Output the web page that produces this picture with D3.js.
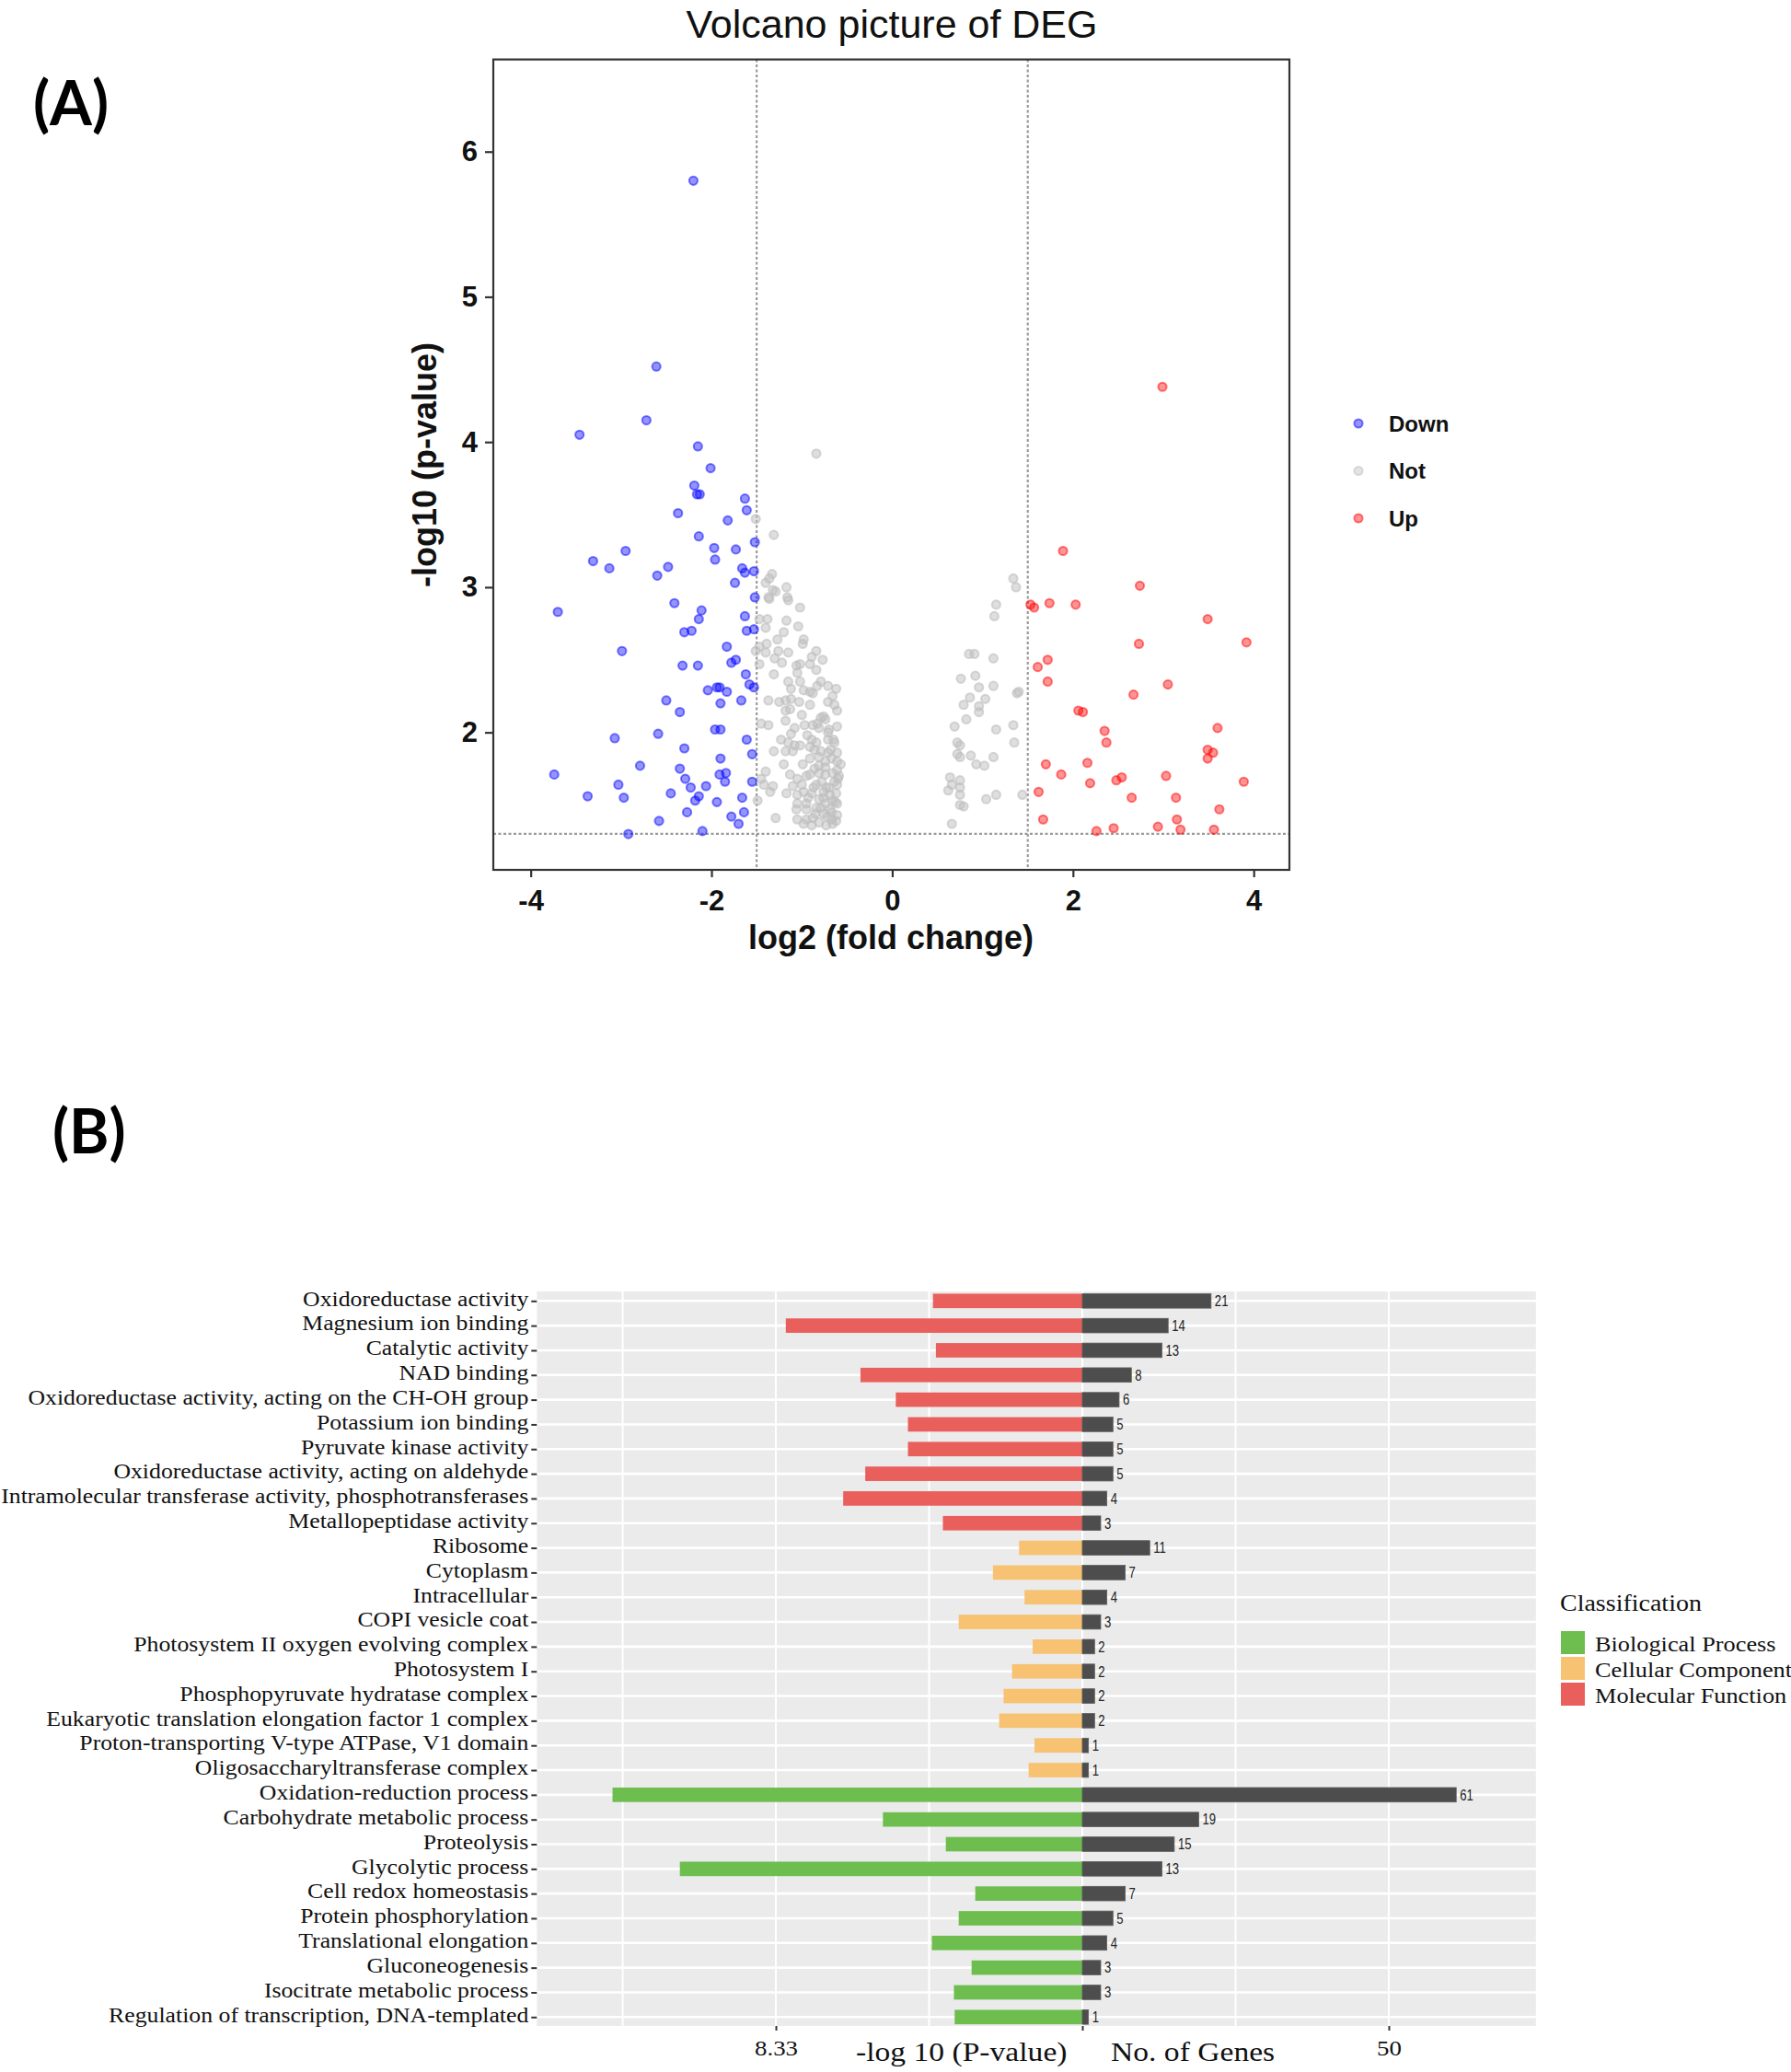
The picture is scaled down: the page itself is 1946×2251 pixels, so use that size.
<!DOCTYPE html>
<html><head><meta charset="utf-8">
<script src="https://cdn.jsdelivr.net/npm/d3@7"></script>
<style>body{margin:0;background:#fff}svg{display:block}</style>
</head><body>
<svg id="fig" width="1946" height="2251"></svg>
<script>
// ---------------- Panel A data: volcano (log2 fold change, -log10 p) ----------------
const volcanoDown = [
[-2.20,5.80],[-2.61,4.52],[-2.72,4.15],[-3.46,4.05],[-2.15,3.97],[-2.01,3.82],[-2.19,3.70],[-2.16,3.64],[-2.13,3.64],
[-1.63,3.61],[-1.61,3.53],[-2.37,3.51],[-1.82,3.46],[-2.14,3.35],[-1.52,3.31],[-2.95,3.25],[-1.97,3.27],[-1.73,3.26],
[-1.96,3.19],[-3.31,3.18],[-3.13,3.13],[-2.48,3.14],[-2.60,3.08],[-1.66,3.13],[-1.63,3.10],[-1.53,3.11],[-1.74,3.03],
[-1.52,2.93],[-2.41,2.89],[-3.70,2.83],[-2.11,2.84],[-2.14,2.78],[-1.63,2.80],[-2.30,2.69],[-2.22,2.70],[-1.61,2.70],
[-1.53,2.71],[-2.99,2.56],[-1.83,2.59],[-2.32,2.46],[-2.15,2.46],[-1.78,2.48],[-1.73,2.50],[-1.62,2.40],[-1.58,2.33],
[-1.53,2.31],[-2.04,2.29],[-1.94,2.31],[-1.91,2.31],[-1.83,2.28],[-1.67,2.22],[-1.90,2.20],[-2.50,2.22],[-2.35,2.14],
[-1.96,2.02],[-1.90,2.02],[-3.07,1.96],[-2.59,1.99],[-1.61,1.95],[-2.30,1.89],[-1.90,1.82],[-1.55,1.85],[-2.79,1.77],
[-2.35,1.75],[-3.74,1.71],[-1.91,1.71],[-1.84,1.72],[-1.85,1.66],[-2.29,1.68],[-1.55,1.66],[-3.03,1.64],[-2.23,1.62],
[-2.06,1.63],[-2.45,1.58],[-3.37,1.56],[-2.97,1.55],[-2.14,1.56],[-2.18,1.53],[-1.94,1.52],[-1.66,1.55],[-2.27,1.45],
[-1.64,1.45],[-2.58,1.39],[-1.78,1.42],[-1.70,1.37],[-2.92,1.30],[-2.10,1.32]
];
const volcanoNot = [
[-0.84,3.92],[-1.51,3.47],[-1.31,3.36],[-1.33,3.09],[-1.40,3.03],[-1.36,3.06],[-1.32,2.98],[-1.36,2.92],[-1.17,3.00],
[-1.16,2.93],[-1.15,2.91],[-1.02,2.86],[-1.47,2.78],[-1.38,2.78],[-1.40,2.72],[-1.17,2.77],[-1.04,2.73],[-1.20,2.69],
[-0.98,2.64],[-0.99,2.61],[-1.27,2.64],[-1.39,2.61],[-1.47,2.59],[-1.51,2.56],[-1.26,2.56],[-1.15,2.55],[-1.40,2.55],
[-0.84,2.56],[-1.30,2.51],[-1.22,2.48],[-0.89,2.52],[-0.91,2.47],[-0.77,2.50],[-1.06,2.46],[-1.02,2.47],[-1.47,2.47],
[-0.84,2.43],[-1.05,2.41],[-1.31,2.40],[-1.15,2.35],[-1.12,2.30],[-1.02,2.35],[-0.79,2.35],[-0.83,2.32],[-0.71,2.32],
[-0.98,2.29],[-0.91,2.28],[-0.88,2.27],[-1.37,2.22],[-1.25,2.21],[-1.18,2.22],[-1.12,2.23],[-1.03,2.21],[-0.91,2.19],
[-0.71,2.21],[-0.64,2.19],[-1.18,2.15],[-1.13,2.16],[-1.00,2.12],[-0.61,2.15],[-0.79,2.10],[-0.76,2.11],[-0.74,2.09],
[-0.88,2.05],[-0.83,2.06],[-0.81,2.03],[-1.18,2.08],[-1.45,2.06],[-1.37,2.05],[-1.08,2.03],[-1.12,1.99],[-0.61,2.04],
[-0.71,2.00],[-1.23,1.95],[-1.15,1.93],[-1.08,1.91],[-0.89,1.95],[-0.84,1.93],[-0.91,1.90],[-0.71,1.95],[-0.64,1.93],
[-1.02,1.91],[-1.10,1.87],[-1.18,1.87],[-1.31,1.87],[-0.86,1.88],[-0.79,1.87],[-0.71,1.86],[-0.61,1.86],[-0.91,1.82],
[-0.81,1.83],[-0.74,1.80],[-0.67,1.82],[-0.61,1.80],[-0.57,1.78],[-1.20,1.78],[-0.81,1.77],[-0.74,1.76],[-0.86,1.75],
[-0.61,1.74],[-1.13,1.71],[-0.91,1.71],[-0.81,1.72],[-0.74,1.71],[-0.66,1.72],[-0.59,1.70],[-1.40,1.73],[-1.45,1.68],
[-1.42,1.64],[-1.05,1.68],[-1.00,1.64],[-0.61,1.64],[-0.84,1.64],[-0.78,1.66],[-0.73,1.62],[-1.32,1.63],[-1.35,1.59],
[-1.10,1.63],[-1.17,1.58],[-1.05,1.57],[-0.98,1.59],[-0.89,1.58],[-0.76,1.59],[-0.69,1.57],[-0.62,1.58],[-1.49,1.53],
[-0.81,1.54],[-0.74,1.51],[-0.66,1.53],[-0.61,1.51],[-1.05,1.51],[-0.95,1.51],[-1.06,1.47],[-0.95,1.47],[-0.84,1.48],
[-0.76,1.44],[-0.67,1.45],[-0.61,1.43],[-1.29,1.41],[-1.05,1.40],[-0.95,1.40],[-0.88,1.41],[-0.67,1.40],[-0.62,1.39],
[-0.66,1.37],[-0.98,1.37],[-0.89,1.36],[-0.81,1.38],[-0.73,1.36],[-1.37,2.93],[-1.29,2.97],
[-0.62,2.30],[-0.66,2.25],[-0.70,2.02],[-0.65,1.95],[-0.68,1.88],[-0.60,1.68],[-0.64,1.66],[-0.70,1.62],[-0.76,1.55],
[-0.79,1.48],[-0.69,1.47],[-0.63,1.52],[-0.72,1.42],[-0.85,1.44],[-0.93,1.55],[-0.87,1.62],[-0.95,1.70],[-0.99,1.78],
[-0.94,1.98],[-0.97,2.05],
[1.34,3.06],[1.37,3.00],[1.15,2.88],[1.13,2.80],[0.85,2.54],[0.91,2.54],[1.12,2.51],[0.76,2.37],[0.92,2.39],[0.96,2.31],
[1.12,2.32],[1.38,2.27],[1.40,2.28],[0.86,2.24],[1.03,2.23],[0.79,2.19],[0.96,2.18],[0.96,2.14],[0.82,2.09],[1.34,2.05],
[1.15,2.02],[1.35,1.93],[0.72,1.93],[0.72,1.85],[0.75,1.83],[0.87,1.84],[0.93,1.78],[1.02,1.77],[1.12,1.83],[0.75,1.67],
[0.75,1.62],[1.04,1.54],[1.15,1.57],[1.44,1.57],[0.75,1.50],[0.69,2.04],[0.75,1.91],[0.64,1.69],[0.66,1.64],[0.62,1.60],
[0.75,1.57],[0.79,1.49],[0.66,1.37]
];
const volcanoUp = [
[2.99,4.38],[1.89,3.25],[2.74,3.01],[1.53,2.88],[1.57,2.86],[1.74,2.89],[2.03,2.88],[3.49,2.78],[2.73,2.61],[3.92,2.62],
[1.72,2.50],[1.61,2.45],[1.72,2.35],[3.05,2.33],[2.67,2.26],[2.06,2.15],[2.11,2.14],[2.35,2.01],[2.37,1.93],[3.60,2.03],
[3.49,1.88],[3.55,1.86],[3.49,1.82],[1.70,1.78],[2.16,1.79],[1.87,1.71],[2.19,1.65],[2.48,1.67],[2.54,1.69],[3.03,1.70],
[3.89,1.66],[1.62,1.59],[2.65,1.55],[3.14,1.55],[3.62,1.47],[1.67,1.40],[3.15,1.40],[2.26,1.32],[2.45,1.34],[2.94,1.35],
[3.19,1.33],[3.56,1.33]
];
const volcanoXTicks = [-4,-2,0,2,4];
const volcanoYTicks = [2,3,4,5,6];
const volcanoGroups = ["Down","Not","Up"];
const foldThreshold = 1.5;
const pThreshold = 1.301;

// ---------------- Panel B data: GO enrichment ----------------
const goTerms = [
"Oxidoreductase activity","Magnesium ion binding","Catalytic activity","NAD binding",
"Oxidoreductase activity, acting on the CH-OH group","Potassium ion binding","Pyruvate kinase activity",
"Oxidoreductase activity, acting on aldehyde","Intramolecular transferase activity, phosphotransferases",
"Metallopeptidase activity","Ribosome","Cytoplasm","Intracellular","COPI vesicle coat",
"Photosystem II oxygen evolving complex","Photosystem I","Phosphopyruvate hydratase complex",
"Eukaryotic translation elongation factor 1 complex","Proton-transporting V-type ATPase, V1 domain",
"Oligosaccharyltransferase complex","Oxidation-reduction process","Carbohydrate metabolic process",
"Proteolysis","Glycolytic process","Cell redox homeostasis","Protein phosphorylation",
"Translational elongation","Gluconeogenesis","Isocitrate metabolic process",
"Regulation of transcription, DNA-templated"
];
const goClass = [
"Molecular Function","Molecular Function","Molecular Function","Molecular Function","Molecular Function",
"Molecular Function","Molecular Function","Molecular Function","Molecular Function","Molecular Function",
"Cellular Component","Cellular Component","Cellular Component","Cellular Component","Cellular Component",
"Cellular Component","Cellular Component","Cellular Component","Cellular Component","Cellular Component",
"Biological Process","Biological Process","Biological Process","Biological Process","Biological Process",
"Biological Process","Biological Process","Biological Process","Biological Process","Biological Process"
];
const goLog10P = [4.06,8.06,3.98,6.03,5.07,4.74,4.74,5.90,6.50,3.79,
                  1.72,2.43,1.57,3.36,1.35,1.91,2.14,2.26,1.30,1.46,
                  12.77,5.42,3.71,10.94,2.91,3.36,4.09,3.01,3.49,3.47];
const goGenes = [21,14,13,8,6,5,5,5,4,3, 11,7,4,3,2,2,2,2,1,1, 61,19,15,13,7,5,4,3,3,1];
const classNames = ["Biological Process","Cellular Component","Molecular Function"];
const classColors = ["#6DBE4F","#F7C272","#E95F5C"];
const geneTicks = [-50,0,50];
const geneTickLabels = ["8.33","","50"];
const gridGenes = [-75,-50,-25,0,25,50];

const svg = d3.select("#fig");

// ================= Panel A =================
const xV = d3.scaleLinear().domain([-4.414, 4.395]).range([536, 1401]);
const yV = d3.scaleLinear().domain([1.053, 6.635]).range([945, 64.6]);
const colV = d3.scaleOrdinal().domain(volcanoGroups).range(["#0000FF","#BEBEBE","#FF0000"]);
const gA = svg.append("g");
const PR = 4.6;

svg.append("text").attr("x",36).attr("y",136)
  .style("font-family","Lato, 'Open Sans', sans-serif").style("font-weight","bold").style("font-size","66px")
  .text("(A)");

svg.append("text").attr("x",969).attr("y",41).attr("text-anchor","middle")
  .style("font-family","'Liberation Sans', Arial, sans-serif").style("font-size","43px").attr("fill","#111")
  .text("Volcano picture of DEG");

const dash = {stroke:"#9a9a9a", w:2.2, d:"3,2.5"};
[-foldThreshold, foldThreshold].forEach(v => {
  gA.append("line").attr("x1",xV(v)).attr("x2",xV(v)).attr("y1",yV.range()[1]).attr("y2",yV.range()[0])
    .attr("stroke",dash.stroke).attr("stroke-width",dash.w).attr("stroke-dasharray",dash.d);
});
gA.append("line").attr("x1",xV.range()[0]).attr("x2",xV.range()[1]).attr("y1",yV(pThreshold)).attr("y2",yV(pThreshold))
  .attr("stroke",dash.stroke).attr("stroke-width",dash.w).attr("stroke-dasharray",dash.d);

function drawPts(data, grp){
  gA.append("g").selectAll("circle").data(data).join("circle")
    .attr("cx",d=>xV(d[0])).attr("cy",d=>yV(d[1])).attr("r",PR)
    .attr("fill",colV(grp)).attr("fill-opacity",grp==="Not"?0.5:0.42)
    .attr("stroke",colV(grp)).attr("stroke-opacity",grp==="Not"?0.6:0.5).attr("stroke-width",2);
}
drawPts(volcanoNot,"Not");
drawPts(volcanoDown,"Down");
drawPts(volcanoUp,"Up");

gA.append("rect").attr("x",536).attr("y",64.6).attr("width",865).attr("height",880.4)
  .attr("fill","none").attr("stroke","#333").attr("stroke-width",2.2);

const axA_x = gA.append("g").attr("transform","translate(0,945)")
  .call(d3.axisBottom(xV).tickValues(volcanoXTicks).tickSize(8).tickPadding(14).tickFormat(d=>String(d)));
const axA_y = gA.append("g").attr("transform","translate(536,0)")
  .call(d3.axisLeft(yV).tickValues(volcanoYTicks).tickSize(9).tickPadding(8).tickFormat(d=>String(d)));
[axA_x, axA_y].forEach(a=>{
  a.select(".domain").remove();
  a.selectAll(".tick line").attr("stroke","#333").attr("stroke-width",2.2);
  a.selectAll(".tick text").attr("fill","#111")
    .style("font-family","'Liberation Sans', Arial, sans-serif").style("font-weight","bold").style("font-size","31px");
});

svg.append("text").attr("x",968).attr("y",1031).attr("text-anchor","middle")
  .style("font-family","'Liberation Sans', Arial, sans-serif").style("font-weight","bold").style("font-size","36px")
  .attr("fill","#111").text("log2 (fold change)");
svg.append("text").attr("transform","translate(474,505) rotate(-90)").attr("text-anchor","middle")
  .style("font-family","'Liberation Sans', Arial, sans-serif").style("font-weight","bold").style("font-size","36px")
  .attr("fill","#111").text("-log10 (p-value)");

const legA = svg.append("g");
const legAy = d3.scalePoint().domain(volcanoGroups).range([460, 563]);
volcanoGroups.forEach(g=>{
  legA.append("circle").attr("cx",1476).attr("cy",legAy(g)).attr("r",PR)
    .attr("fill",colV(g)).attr("fill-opacity",0.42).attr("stroke",colV(g)).attr("stroke-opacity",0.5).attr("stroke-width",2);
  legA.append("text").attr("x",1509).attr("y",legAy(g)+8.5)
    .style("font-family","'Liberation Sans', Arial, sans-serif").style("font-weight","bold").style("font-size","24px")
    .attr("fill","#111").text(g);
});

// ================= Panel B =================
svg.append("text").attr("x",57).attr("y",1253)
  .style("font-family","Lato, 'Open Sans', sans-serif").style("font-weight","bold").style("font-size","66px")
  .text("(B)");

const SX = 1.12; // horizontal stretch of the serif text seen in the figure
const serif = "'Liberation Serif', 'Times New Roman', serif";
const xG = d3.scaleLinear().domain([-89, 74]).range([583.3, 1668.8]);
const xP = d3.scaleLinear().domain([0, 8.33]).range([xG(0), xG(-50)]);
const yB = d3.scalePoint().domain(goTerms).range([1413.3, 2191.3]);
const colB = d3.scaleOrdinal().domain(classNames).range(classColors);
const barH = 15.7;
const panelTop = 1403, panelBottom = 2201;
const gB = svg.append("g");

gB.append("rect").attr("x",xG.range()[0]).attr("y",panelTop).attr("width",xG.range()[1]-xG.range()[0]).attr("height",panelBottom-panelTop)
  .attr("fill","#EBEBEB");
gB.append("g").selectAll("line").data(gridGenes).join("line")
  .attr("x1",d=>xG(d)).attr("x2",d=>xG(d)).attr("y1",panelTop).attr("y2",panelBottom)
  .attr("stroke","#fff").attr("stroke-width",2);
gB.append("g").selectAll("line").data(goTerms).join("line")
  .attr("x1",xG.range()[0]).attr("x2",xG.range()[1]).attr("y1",d=>yB(d)).attr("y2",d=>yB(d))
  .attr("stroke","#fff").attr("stroke-width",2.6);

const rows = goTerms.map((t,i)=>({t, c:goClass[i], p:goLog10P[i], n:goGenes[i]}));
gB.append("g").selectAll("rect").data(rows).join("rect")
  .attr("x",d=>xP(d.p)).attr("width",d=>xP(0)-xP(d.p))
  .attr("y",d=>yB(d.t)-barH/2).attr("height",barH).attr("fill",d=>colB(d.c));
gB.append("g").selectAll("rect").data(rows).join("rect")
  .attr("x",xG(0)).attr("width",d=>xG(d.n)-xG(0))
  .attr("y",d=>yB(d.t)-barH/2).attr("height",barH).attr("fill","#4D4D4D")
  .attr("stroke","#5e5e5e").attr("stroke-width",0.8);
gB.append("g").selectAll("text").data(rows).join("text")
  .attr("transform",d=>`translate(${xG(d.n)+4},${yB(d.t)+5.8}) scale(0.82,1)`)
  .style("font-family","'Liberation Sans', Arial, sans-serif").style("font-size","16px").attr("fill","#222")
  .text(d=>d.n);

const axB_y = gB.append("g").attr("transform",`translate(${xG.range()[0]},0)`)
  .call(d3.axisLeft(yB).tickSize(6).tickPadding(3));
axB_y.select(".domain").remove();
axB_y.selectAll(".tick line").attr("stroke","#333").attr("stroke-width",2);
axB_y.selectAll(".tick text").attr("x",null).attr("dy",null)
  .attr("transform",`translate(-9,4.8) scale(${SX},1)`).attr("fill","#111")
  .style("font-family",serif).style("font-size","23px");

const axB_x = gB.append("g").attr("transform",`translate(0,${panelBottom})`)
  .call(d3.axisBottom(xG).tickValues(geneTicks).tickSize(5).tickPadding(10).tickFormat((d,i)=>geneTickLabels[i]));
axB_x.select(".domain").remove();
axB_x.selectAll(".tick line").attr("stroke","#333").attr("stroke-width",2);
axB_x.selectAll(".tick text").attr("y",null).attr("dy",null)
  .attr("transform",`translate(0,32) scale(${SX},1)`).attr("fill","#111")
  .style("font-family",serif).style("font-size","24px");

svg.append("text").attr("transform",`translate(930,2239) scale(${SX},1)`)
  .style("font-family",serif).style("font-size","30px").attr("fill","#111").text("-log 10 (P-value)");
svg.append("text").attr("transform",`translate(1207,2239) scale(${SX},1)`)
  .style("font-family",serif).style("font-size","30px").attr("fill","#111").text("No. of Genes");

// legend
const legB = svg.append("g");
legB.append("text").attr("transform",`translate(1695,1750) scale(${SX},1)`)
  .style("font-family",serif).style("font-size","25px").attr("fill","#111").text("Classification");
const legBy = d3.scalePoint().domain(classNames).range([1784.5, 1840.5]);
classNames.forEach(c=>{
  legB.append("rect").attr("x",1696).attr("y",legBy(c)-12.5).attr("width",26).attr("height",25).attr("fill",colB(c));
  legB.append("text").attr("transform",`translate(1733,${legBy(c)+9}) scale(${SX},1)`)
    .style("font-family",serif).style("font-size","23.5px").attr("fill","#111").text(c);
});
</script>
</body></html>
